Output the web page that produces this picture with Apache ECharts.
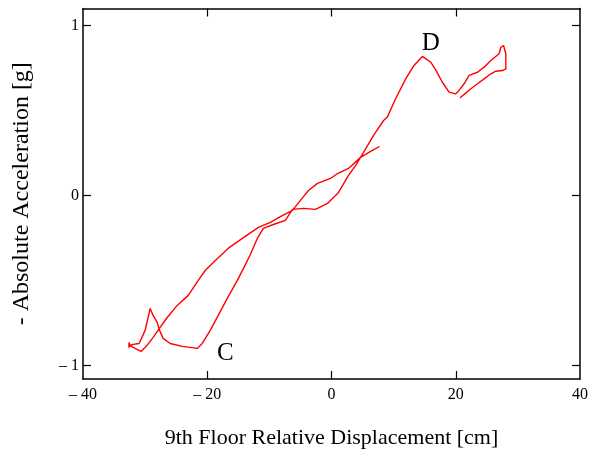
<!DOCTYPE html>
<html>
<head>
<meta charset="utf-8">
<script src="https://cdn.jsdelivr.net/npm/echarts@6/dist/echarts.min.js"></script>
<style>
  html, body { margin: 0; padding: 0; background: #fff; }
  #chart { width: 595px; height: 456px; }
</style>
</head>
<body>
<div id="chart"></div>
<script>
// Hysteresis trace: 9th floor relative displacement [cm] vs. negative absolute acceleration [g]
const dispCm = [
  7.74, 6.29, 4.68, 2.74, 0.97, -0.16, -2.26, -3.71, -5.0, -6.29, -8.23, -9.84, -11.77, -14.35,
  -16.6, -18.9, -20.3, -21.45, -23.06, -24.84, -26.45, -27.58, -28.71, -29.68, -30.65, -31.29,
  -31.94, -32.42, -32.6, -32.6, -32.42, -31.94, -30.97, -30.0, -29.19, -28.71, -28.06, -27.74,
  -27.1, -25.97, -24.03, -22.74, -21.61, -20.81, -19.52, -18.23, -16.77, -15.16, -13.9, -13.1,
  -11.94, -10.97, -9.35, -7.42, -6.29, -4.52, -2.58, -0.65, 1.13, 2.74, 3.87, 5.16, 6.77, 8.39,
  8.98, 10.32, 11.94, 13.27, 14.63, 14.89, 15.97, 16.77, 17.85, 18.92, 20.0, 20.53, 21.34, 22.15,
  23.5, 24.56, 25.65, 26.98, 27.26, 27.69, 27.9, 28.06, 28.06, 27.53, 26.45, 25.65, 24.56, 23.5,
  22.42, 21.61, 20.69
];
const accelG = [
  0.288, 0.259, 0.224, 0.159, 0.129, 0.100, 0.071, 0.029, -0.029, -0.088, -0.124, -0.159, -0.188, -0.253,
  -0.31, -0.39, -0.44, -0.5, -0.588, -0.647, -0.718, -0.776, -0.835, -0.882, -0.918, -0.906,
  -0.894, -0.882, -0.865, -0.895, -0.882, -0.876, -0.871, -0.794, -0.665, -0.706, -0.747, -0.788,
  -0.841, -0.871, -0.888, -0.894, -0.9, -0.871, -0.794, -0.706, -0.606, -0.5, -0.41, -0.35,
  -0.253, -0.194, -0.171, -0.147, -0.082, -0.076, -0.082, -0.047, 0.018, 0.118, 0.176, 0.253, 0.353, 0.441,
  0.461, 0.569, 0.686, 0.765, 0.818, 0.819, 0.784, 0.739, 0.666, 0.608, 0.598, 0.618, 0.657, 0.706,
  0.725, 0.755, 0.794, 0.834, 0.872, 0.882, 0.872, 0.834, 0.745, 0.735, 0.731, 0.716, 0.686, 0.657,
  0.628, 0.602, 0.575
];
const xTickValues = [-20, 0, 20];
const xLabelValues = [-40, -20, 0, 20, 40];
const yTickValues = [-1, 0, 1];
const peakLabels = [
  { text: 'D', x: 15.97, y: 0.894 },
  { text: 'C', x: -17.1, y: -0.93 }
];

const serif = '"Liberation Serif", "DejaVu Serif", serif';
const fmt = v => (v < 0 ? '\u2013 ' + Math.abs(v) : String(v));

const points = dispCm.map((x, i) => [x, accelG[i]]);

const frameLine = { show: true, onZero: false, lineStyle: { color: '#000', width: 1.5 } };
const tickStyle = { color: '#000', width: 1.2 };

const chart = echarts.init(document.getElementById('chart'), null, { renderer: 'canvas' });
chart.setOption({
  animation: false,
  backgroundColor: '#fff',
  grid: { left: 83, right: 15, top: 8.5, bottom: 77, containLabel: false },
  xAxis: [
    {
      type: 'value', min: -40, max: 40, position: 'bottom',
      axisLine: frameLine,
      axisTick: { show: true, inside: true, length: 8, customValues: xTickValues, lineStyle: tickStyle },
      axisLabel: { customValues: xLabelValues, formatter: fmt, color: '#000', fontFamily: serif, fontSize: 16, margin: 8 },
      splitLine: { show: false },
      name: '9th Floor Relative Displacement [cm]', nameLocation: 'middle', nameGap: 48,
      nameTextStyle: { color: '#000', fontFamily: serif, fontSize: 22 }
    },
    {
      type: 'value', min: -40, max: 40, position: 'top',
      axisLine: frameLine,
      axisTick: { show: true, inside: true, length: 8, customValues: xTickValues, lineStyle: tickStyle },
      axisLabel: { show: false },
      splitLine: { show: false }
    }
  ],
  yAxis: [
    {
      type: 'value', min: -1.08, max: 1.1, position: 'left',
      axisLine: frameLine,
      axisTick: { show: true, inside: true, length: 8, customValues: yTickValues, lineStyle: tickStyle },
      axisLabel: { customValues: yTickValues, formatter: fmt, color: '#000', fontFamily: serif, fontSize: 16, margin: 4 },
      splitLine: { show: false },
      name: '- Absolute Acceleration [g]', nameLocation: 'middle', nameGap: 49, nameRotate: 90,
      nameTextStyle: { color: '#000', fontFamily: serif, fontSize: 24 }
    },
    {
      type: 'value', min: -1.08, max: 1.1, position: 'right',
      axisLine: frameLine,
      axisTick: { show: true, inside: true, length: 8, customValues: yTickValues, lineStyle: tickStyle },
      axisLabel: { show: false },
      splitLine: { show: false }
    }
  ],
  series: [
    {
      type: 'line',
      data: points,
      xAxisIndex: 0, yAxisIndex: 0,
      showSymbol: false,
      symbol: 'none',
      lineStyle: { color: '#ff0000', width: 1.4 },
      markPoint: {
        symbol: 'circle', symbolSize: 0,
        label: { show: true, position: 'inside', color: '#000', fontFamily: serif, fontSize: 25,
                 formatter: p => p.name },
        data: peakLabels.map(p => ({ name: p.text, coord: [p.x, p.y] }))
      }
    }
  ]
});
</script>
</body>
</html>
